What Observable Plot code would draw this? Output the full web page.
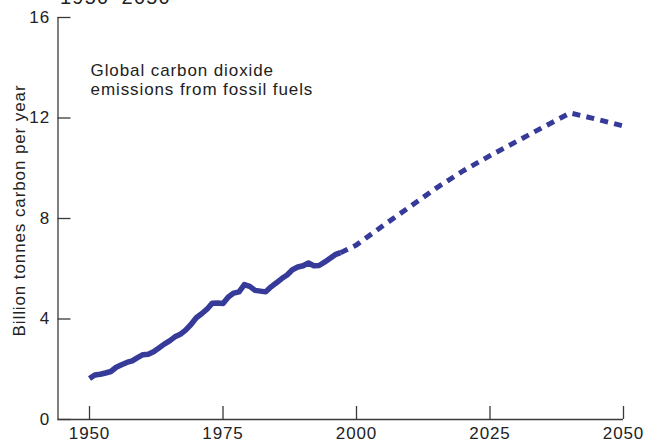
<!DOCTYPE html>
<html>
<head>
<meta charset="utf-8">
<script src="https://cdn.jsdelivr.net/npm/d3@7"></script>
<script src="https://cdn.jsdelivr.net/npm/@observablehq/plot@0.6"></script>
<style>
  html, body { margin: 0; padding: 0; background: #fff; }
  #wrap { position: relative; width: 645px; height: 443px; overflow: hidden; }
  #title { position: absolute; left: 60px; top: -13px; font: 20px "Liberation Sans", Arial, Helvetica, sans-serif; letter-spacing: 1.2px; color: #222; line-height: 20px; white-space: nowrap; }
</style>
</head>
<body>
<div id="wrap"><div id="title">1950–2050</div></div>
<script>
// Historical emissions (billion tonnes carbon per year)
const histYears = [1950,1951,1952,1953,1954,1955,1956,1957,1958,1959,1960,1961,1962,1963,1964,1965,1966,1967,1968,1969,1970,1971,1972,1973,1974,1975,1976,1977,1978,1979,1980,1981,1982,1983,1984,1985,1986,1987,1988,1989,1990,1991,1992,1993,1994,1995,1996,1997];
const histValues = [1.63,1.77,1.80,1.85,1.91,2.08,2.18,2.27,2.33,2.46,2.58,2.60,2.70,2.85,3.00,3.13,3.29,3.39,3.56,3.78,4.05,4.21,4.39,4.63,4.64,4.62,4.88,5.03,5.08,5.37,5.30,5.14,5.11,5.08,5.28,5.44,5.61,5.75,5.96,6.07,6.12,6.23,6.12,6.13,6.26,6.41,6.56,6.64];
// Projection
const projYears = [1997,2000,2005,2010,2015,2020,2025,2030,2035,2040,2045,2050];
const projValues = [6.64,6.95,7.72,8.47,9.22,9.9,10.5,11.07,11.64,12.2,11.95,11.68];

const yTicks = [0,4,8,12,16];
const xTicks = [1950,1975,2000,2025,2050];
const xStart = 1944.1;
const yLabel = "Billion tonnes carbon per year";
const noteText = ["Global carbon dioxide", "emissions from fossil fuels"];
const noteAt = {year: 1950.2, value: 14.22};

const hist = histYears.map((y,i) => ({year: y, value: histValues[i]}));
const proj = projYears.map((y,i) => ({year: y, value: projValues[i]}));

const lineColor = "#363a98";
const axisColor = "#3a3a3a";

const chart = Plot.plot({
  width: 645,
  height: 443,
  marginLeft: 57.5,
  marginRight: 22,
  marginTop: 17,
  marginBottom: 24,
  style: {fontFamily: '"Liberation Sans", Arial, Helvetica, sans-serif', fontSize: "17px", color: "#222", background: "#fff", overflow: "visible"},
  x: {domain: [xStart, 2050]},
  y: {domain: [0, 16]},
  marks: [
    Plot.ruleY([0], {stroke: axisColor, strokeWidth: 1.3}),
    Plot.ruleX([xStart], {stroke: axisColor, strokeWidth: 1.3}),
    Plot.axisX({ticks: xTicks, tickSize: -13, tickFormat: () => "", stroke: axisColor, strokeWidth: 1.3, label: null}),
    Plot.axisX({ticks: xTicks, tickSize: 0, tickPadding: 7, tickFormat: d => String(d), label: null, fontSize: 17}),
    Plot.axisY({ticks: yTicks, tickSize: -13, tickFormat: () => "", stroke: axisColor, strokeWidth: 1.3, label: null}),
    Plot.axisY({ticks: yTicks, tickSize: 0, tickPadding: 8, label: null, fontSize: 17}),
    Plot.line(proj, {x: "year", y: "value", stroke: lineColor, strokeWidth: 5, strokeDasharray: "8,6.3", strokeLinecap: "butt"}),
    Plot.line(hist, {x: "year", y: "value", stroke: lineColor, strokeWidth: 5.5, strokeLinejoin: "round", strokeLinecap: "butt"}),
    Plot.text([noteText.join("\n")], {x: () => noteAt.year, y: () => noteAt.value, text: d => d, textAnchor: "start", lineAnchor: "top", lineHeight: 1.12, fontSize: 17, fill: "#222"}),
    Plot.text([yLabel], {frameAnchor: "left", text: d => d, rotate: -90, textAnchor: "middle", lineAnchor: "middle", dx: -38, dy: -8, fontSize: 17, fill: "#222"})
  ]
});
document.getElementById("wrap").appendChild(chart);
// letter spacing to mimic the original typeface's wider set
chart.querySelectorAll("text").forEach(t => t.style.letterSpacing = "0.9px");
</script>
</body>
</html>
